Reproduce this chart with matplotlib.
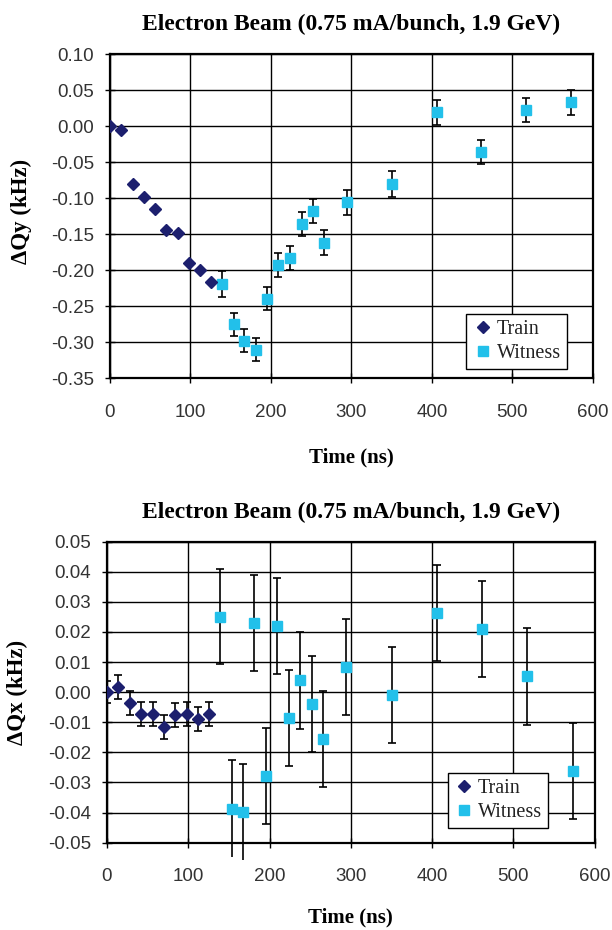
import numpy as np
import matplotlib
matplotlib.use("Agg")
import matplotlib.pyplot as plt
from matplotlib.lines import Line2D

# data
train_t = [0, 14, 28, 42, 56, 70, 84, 98, 112, 126]
witness_t = [139, 154, 167, 181, 195, 209, 224, 238, 252, 266, 294, 350, 406, 461, 517, 573]

qy_train = [0.000, -0.005, -0.080, -0.098, -0.115, -0.145, -0.148, -0.190, -0.200, -0.217]
qy_witness = [-0.219, -0.275, -0.298, -0.311, -0.240, -0.193, -0.183, -0.136, -0.118, -0.162,
              -0.106, -0.080, 0.019, -0.036, 0.022, 0.033]
qy_witness_err = [0.018, 0.016, 0.016, 0.016, 0.016, 0.017, 0.017, 0.017, 0.017, 0.017,
                  0.017, 0.018, 0.017, 0.017, 0.017, 0.017]

qx_train = [0.0000, 0.0017, -0.0035, -0.0074, -0.0074, -0.0116, -0.0077, -0.0074, -0.0088, -0.0074]
qx_train_err = [0.0037, 0.0040, 0.0040, 0.0040, 0.0040, 0.0040, 0.0040, 0.0040, 0.0040, 0.0040]
qx_witness = [0.0251, -0.0387, -0.0399, 0.0230, -0.0279, 0.0219, -0.0086, 0.0039, -0.0039, -0.0155,
              0.0083, -0.0009, 0.0264, 0.0210, 0.0052, -0.0263]
qx_witness_err = [0.0159, 0.0160, 0.0160, 0.0160, 0.0160, 0.0160, 0.0160, 0.0160, 0.0160, 0.0160,
                  0.0160, 0.0160, 0.0160, 0.0160, 0.0160, 0.0160]

title = "Electron Beam (0.75 mA/bunch, 1.9 GeV)"
xticks = [0, 100, 200, 300, 400, 500, 600]
qy_ticks = np.round(np.arange(-0.35, 0.101, 0.05), 2)
qx_ticks = np.round(np.arange(-0.05, 0.051, 0.01), 2)

NAVY = "#1c1f6e"
CYAN = "#22c0ea"
serif = "Liberation Serif"
sans = "Liberation Sans"


def style_axes(ax, yticks, ylabel, ylab_xy):
    ax.set_xlim(0, 600)
    ax.set_ylim(yticks[0], yticks[-1])
    ax.set_xticks(xticks)
    ax.set_yticks(yticks)
    ax.set_yticklabels([f"{v + 0.0:.2f}" for v in yticks], family=sans, fontsize=13.5, color="#333333")
    ax.set_xticklabels([str(v) for v in xticks], family=sans, fontsize=13.5, color="#333333")
    ax.tick_params(direction="inout", length=7, width=1)
    ax.tick_params(axis="y", pad=8)
    ax.tick_params(axis="x", pad=15)
    ax.grid(True, color="black", linewidth=1)
    ax.set_axisbelow(True)
    for s in ax.spines.values():
        s.set_linewidth(1.6)
    ax.set_xlabel("Time (ns)", family=serif, fontweight="bold", fontsize=15)
    ax.xaxis.set_label_coords(0.5, -0.215)
    ax.set_ylabel(ylabel, family=serif, fontweight="bold", fontsize=16.5)
    ax.yaxis.set_label_coords(*ylab_xy)
    ax.set_title(title, family=serif, fontweight="bold", fontsize=17, pad=17)


def add_legend(ax, anchor):
    handles = [Line2D([], [], ls="none", marker="D", color=NAVY, markersize=6),
               Line2D([], [], ls="none", marker="s", color=CYAN, markersize=6.5)]
    leg = ax.legend(handles, ["Train", "Witness"], loc="lower right", bbox_to_anchor=anchor,
                    fontsize=14.5, fancybox=False, edgecolor="black", framealpha=1,
                    handletextpad=0.2, borderpad=0.3, labelspacing=0.25,
                    handlelength=1.0, borderaxespad=0)
    for txt in leg.get_texts():
        txt.set_fontfamily(serif)
        txt.set_color("#222222")
    leg.get_frame().set_linewidth(1)


fig = plt.figure(figsize=(6.12, 9.30), dpi=100)

# --- top panel: vertical tune shift
ax1 = fig.add_axes([0.1797, 0.5935, 0.789, 0.3484])
ax1.plot(train_t, qy_train, "D", color=NAVY, markersize=6, zorder=4)
ax1.errorbar(witness_t, qy_witness, yerr=qy_witness_err, fmt="s", color=CYAN, markersize=6.5,
             ecolor="black", elinewidth=1.2, capsize=3, capthick=1.2, zorder=3)
style_axes(ax1, qy_ticks, "ΔQy (kHz)", (-0.161, 0.515))
add_legend(ax1, (0.946, 0.028))

# --- bottom panel: horizontal tune shift
ax2 = fig.add_axes([0.1748, 0.0939, 0.797, 0.3237])
ax2.errorbar(train_t, qx_train, yerr=qx_train_err, fmt="D", color=NAVY, markersize=6,
             ecolor="black", elinewidth=1.2, capsize=3, capthick=1.2, zorder=4)
eb = ax2.errorbar(witness_t, qx_witness, yerr=qx_witness_err, fmt="s", color=CYAN, markersize=6.5,
                  ecolor="black", elinewidth=1.2, capsize=3, capthick=1.2, zorder=3)
for art in eb.lines[2]:
    art.set_clip_on(False)
style_axes(ax2, qx_ticks, "ΔQx (kHz)", (-0.162, 0.5))
add_legend(ax2, (0.904, 0.048))

fig.savefig("out.png", dpi=100)
